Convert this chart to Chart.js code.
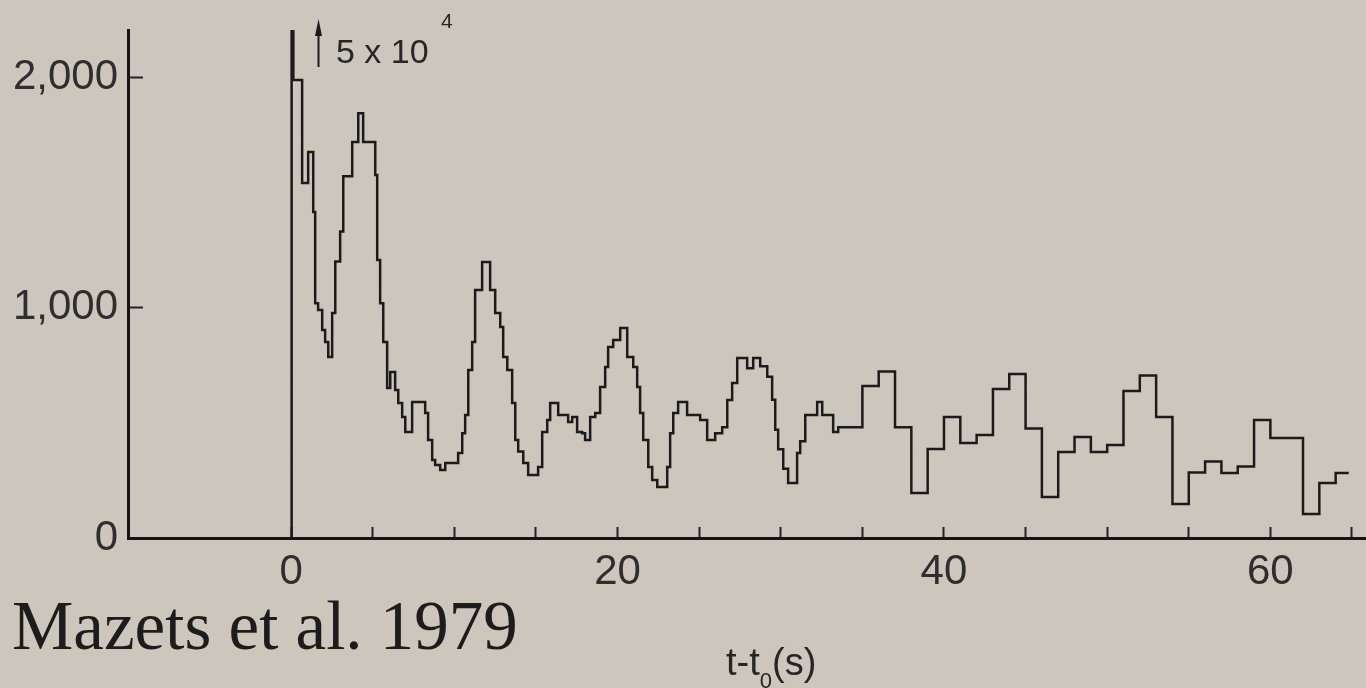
<!DOCTYPE html>
<html>
<head>
<meta charset="utf-8">
<title>Mazets et al. 1979</title>
<script src="https://cdn.jsdelivr.net/npm/chart.js@4.4.0/dist/chart.umd.min.js"></script>
<style>
  html, body { margin: 0; padding: 0; background: #cdc6bc; }
  body { width: 1366px; height: 688px; position: relative; overflow: hidden; }
  canvas { position: absolute; left: 0; top: 0; }
  .txt { position: absolute; white-space: nowrap; line-height: 1; color: #262626; font-family: "Liberation Sans", Arial, sans-serif; }
  .cite { left: 12px; top: 592px; font-size: 69px; color: #1c1c1c; font-family: "Liberation Serif", "Times New Roman", serif; }
  .note { left: 336px; top: 34px; font-size: 34px; }
  .note .pow { position: absolute; left: 105px; top: -24px; font-size: 21px; }
  .xtitle { left: 726px; top: 643px; font-size: 38px; }
  .xtitle .sub { font-size: 22px; position: relative; top: 13px; }
</style>
</head>
<body>
<canvas id="chart" width="1366" height="688"></canvas>
<div class="txt note">5 x 10<span class="pow">4</span></div>
<div class="txt xtitle">t-t<span class="sub">0</span>(s)</div>
<div class="txt cite">Mazets et al. 1979</div>
<script>
// bin start times (s) and counts
const binStart = [
  0, 0.04, 0.13, 0.67, 1.04, 1.35, 1.47, 1.65, 1.90, 2.08,
  2.27, 2.51, 2.70, 3.00, 3.19, 3.74, 4.11, 4.41, 5.15, 5.27,
  5.45, 5.64, 5.88, 6.07, 6.37, 6.56, 6.80, 6.99, 7.41, 8.21,
  8.39, 8.64, 8.82, 9.13, 9.44, 10.23, 10.48, 10.66, 10.85, 11.09,
  11.27, 11.70, 12.19, 12.50, 12.81, 12.99, 13.24, 13.54, 13.73, 13.91,
  14.22, 14.52, 15.13, 15.38, 15.69, 15.87, 16.36, 16.97, 17.22, 17.52,
  17.83, 18.01, 18.32, 18.63, 18.93, 19.24, 19.42, 19.73, 20.16, 20.59,
  20.96, 21.20, 21.38, 21.57, 21.88, 22.12, 22.43, 23.04, 23.22, 23.41,
  23.71, 24.26, 25.06, 25.49, 25.98, 26.41, 26.72, 27.02, 27.33, 27.94,
  28.31, 28.74, 29.17, 29.47, 29.66, 29.84, 30.15, 30.45, 31.00, 31.19,
  31.50, 32.23, 32.54, 33.21, 33.52, 35, 36, 37, 38, 39,
  40, 41, 42, 43, 44, 45, 46, 47, 48, 49,
  50, 51, 52, 53, 54, 55, 56, 57, 58, 59,
  60, 61, 62, 63, 64
];
const binEnd = 64.8;
const counts = [
  1490, 50000, 1987, 1540, 1675, 1414, 1019, 989, 902, 850,
  785, 976, 1200, 1330, 1570, 1718, 1843, 1718, 1575, 1206,
  1019, 850, 651, 720, 642, 586, 525, 460, 590, 542,
  425, 338, 317, 295, 325, 369, 455, 534, 729, 850,
  1076, 1197, 1076, 976, 915, 785, 729, 586, 425, 375,
  325, 273, 308, 460, 512, 586, 534, 503, 525, 460,
  455, 425, 525, 542, 655, 742, 829, 859, 911, 785,
  742, 655, 542, 425, 308, 252, 221, 308, 455, 542,
  590, 534, 512, 425, 455, 481, 599, 672, 781, 737,
  781, 745, 700, 600, 470, 385, 300, 239, 369, 420,
  534, 590, 534, 460, 481, 660, 722, 481, 195, 386,
  525, 412, 447, 646, 711, 475, 178, 373, 438, 373,
  403, 638, 705, 525, 147, 284, 332, 282, 310, 512,
  434, 434, 104, 239, 282
];
const xTicks = [0, 5, 10, 15, 20, 25, 30, 35, 40, 45, 50, 55, 60, 65];
const xLabels = [0, 20, 40, 60];
const yTicks = [0, 1000, 2000];
const spikeNoteT = 1.65;

// each bin is held from its start time until the next start
const points = [{ x: binStart[0], y: 0 }];
binStart.forEach(function(t, i) {
  const next = i + 1 < binStart.length ? binStart[i + 1] : binEnd;
  points.push({ x: t, y: counts[i] });
  points.push({ x: next, y: counts[i] });
});

const ink = '#1b1b1b';
const labelFont = { family: '"Liberation Sans", Arial, sans-serif', size: 42 };

// little up-arrow next to the off-scale spike
const spikeArrow = {
  id: 'spikeArrow',
  afterDatasetsDraw(chart) {
    const ctx = chart.ctx;
    const x = Math.round(chart.scales.x.getPixelForValue(spikeNoteT)) + 0.5;
    ctx.save();
    ctx.strokeStyle = ink;
    ctx.fillStyle = ink;
    ctx.lineWidth = 2;
    ctx.beginPath();
    ctx.moveTo(x, 67);
    ctx.lineTo(x, 32);
    ctx.stroke();
    ctx.beginPath();
    ctx.moveTo(x, 19);
    ctx.lineTo(x - 3.5, 36);
    ctx.lineTo(x + 3.5, 36);
    ctx.closePath();
    ctx.fill();
    ctx.restore();
  }
};

function noPad(scale) {
  scale.paddingLeft = 0;
  scale.paddingRight = 0;
  scale.paddingTop = 0;
  scale.paddingBottom = 0;
}

new Chart(document.getElementById('chart'), {
  type: 'line',
  data: {
    datasets: [{
      data: points,
      borderColor: ink,
      borderWidth: 2.5,
      borderJoinStyle: 'miter',
      pointRadius: 0,
      tension: 0,
      fill: false
    }]
  },
  options: {
    responsive: false,
    animation: false,
    layout: { padding: { top: 30, left: 0, right: 0, bottom: 0 } },
    plugins: { legend: { display: false }, tooltip: { enabled: false } },
    scales: {
      x: {
        type: 'linear',
        min: -10,
        max: 65.86,
        afterBuildTicks: function(s) { s.ticks = xTicks.map(function(v) { return { value: v }; }); },
        afterFit: function(s) { s.height = 150; noPad(s); },
        border: { color: '#141414', width: 3 },
        grid: {
          drawOnChartArea: false,
          tickLength: -11,
          tickWidth: 2,
          tickColor: '#222'
        },
        ticks: {
          autoSkip: false,
          maxRotation: 0,
          padding: 20,
          color: '#2e2e2e',
          font: labelFont,
          callback: function(v) { return xLabels.includes(v) ? String(v) : ''; }
        }
      },
      y: {
        min: 0,
        max: 2204,
        afterBuildTicks: function(s) { s.ticks = yTicks.map(function(v) { return { value: v }; }); },
        afterFit: function(s) { s.width = 128; noPad(s); },
        border: { color: '#141414', width: 3 },
        grid: {
          drawOnChartArea: false,
          tickLength: -15,
          tickWidth: 2,
          tickColor: '#222'
        },
        ticks: {
          autoSkip: false,
          padding: 25,
          color: '#2e2e2e',
          font: labelFont,
          callback: function(v) { return v.toLocaleString('en-US'); }
        }
      }
    }
  },
  plugins: [spikeArrow]
});
</script>
</body>
</html>
